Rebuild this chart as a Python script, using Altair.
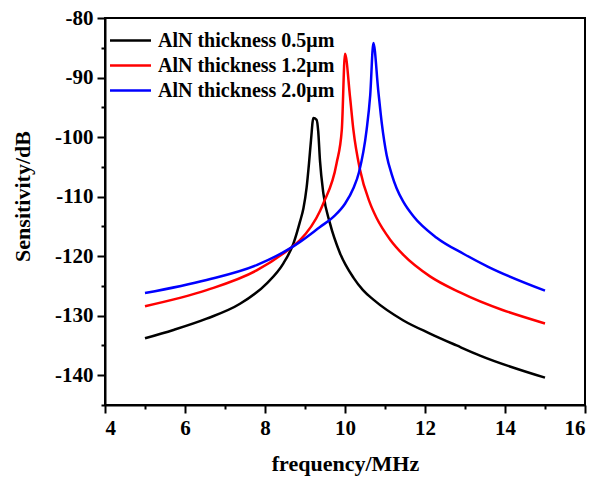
import altair as alt
import pandas as pd

series_names = ["AlN thickness 0.5μm", "AlN thickness 1.2μm", "AlN thickness 2.0μm"]
series_colors = ["#000000", "#ff0000", "#0000ff"]

freq_05 = [5.0, 5.71, 6.54, 7.375, 8.04, 8.46, 8.71, 8.875, 8.96, 9.04, 9.10, 9.15, 9.21,
           9.29, 9.33, 9.375, 9.46, 9.625, 9.875, 10.21, 10.45, 10.71, 11.46, 12.125, 12.79,
           13.375, 15.0]
sens_05 = [-133.8, -132.4, -130.5, -128.0, -124.6, -121.2, -117.9, -114.2, -112.0, -108.5,
           -104.4, -100.5, -96.8, -97.1, -99.0, -104.0, -109.5, -114.5, -119.5, -123.6,
           -125.7, -127.3, -130.8, -133.0, -135.0, -136.7, -140.4]

freq_12 = [5.0, 6.54, 7.79, 8.625, 8.875, 9.375, 9.46, 9.79, 9.92, 10.0, 10.125, 10.21,
           10.375, 10.625, 10.79, 11.125, 11.46, 12.125, 12.875, 15.0]
sens_12 = [-128.4, -125.7, -122.4, -118.7, -117.3, -112.4, -111.1, -104.4, -98.8, -86.0,
           -93.2, -98.8, -105.5, -111.1, -113.6, -117.2, -119.8, -123.4, -126.1, -131.3]

freq_20 = [5.0, 6.54, 7.79, 8.625, 8.875, 9.375, 9.71, 10.0, 10.21, 10.35, 10.54, 10.63,
           10.71, 10.83, 10.92, 11.04, 11.17, 11.29, 11.46, 11.71, 12.29, 12.96, 13.58, 15.0]
sens_20 = [-126.2, -124.0, -121.5, -118.7, -117.6, -115.1, -113.4, -111.2, -108.6, -105.9,
           -98.8, -93.0, -84.2, -92.1, -97.7, -103.0, -106.3, -108.6, -110.9, -113.3,
           -116.9, -119.6, -121.8, -125.8]

x_ticks = [4, 5, 6, 7, 8, 9, 10, 11, 12, 13, 14, 15, 16]
y_ticks = [-145, -140, -135, -130, -125, -120, -115, -110, -105, -100, -95, -90, -85, -80]

rows = []
for name, fs, ss in zip(series_names, [freq_05, freq_12, freq_20], [sens_05, sens_12, sens_20]):
    for f, s in zip(fs, ss):
        rows.append({"series": name, "freq": f, "sens": s})
df = pd.DataFrame(rows)

FONT = "Liberation Serif"

x_axis = alt.Axis(
    values=x_ticks,
    labelExpr="datum.value % 2 == 0 ? '' + datum.value : ''",
    tickSize={"condition": {"test": "datum.value % 2 == 0", "value": 8}, "value": 4},
    labelPadding=4,
    title="frequency/MHz",
    titleY=65,
    titleBaseline="alphabetic",
)
y_axis = alt.Axis(
    values=y_ticks,
    labelExpr="datum.value % 10 == 0 ? '' + datum.value : ''",
    tickSize={"condition": {"test": "datum.value % 10 == 0", "value": 8}, "value": 4},
    labelPadding=4,
    title="Sensitivity/dB",
    titleX=-76,
    titleY=178,
    titleBaseline="alphabetic",
)

chart = alt.Chart(df).mark_line(strokeWidth=2.5, interpolate="monotone").encode(
    x=alt.X("freq:Q", scale=alt.Scale(domain=[4, 16], nice=False, zero=False), axis=x_axis),
    y=alt.Y("sens:Q", scale=alt.Scale(domain=[-145, -80], nice=False, zero=False), axis=y_axis),
    color=alt.Color(
        "series:N",
        scale=alt.Scale(domain=series_names, range=series_colors),
        legend=alt.Legend(
            orient="none", legendX=14, legendY=11, title=None,
            symbolType="M-2,0H2", symbolSize=420, symbolStrokeWidth=2.5,
            labelFont=FONT, labelFontSize=20, labelFontWeight="bold", labelColor="black",
            labelOffset=16, rowPadding=3, padding=0, labelLimit=400,
        ),
    ),
).properties(
    width=480, height=387,
    autosize=alt.AutoSizeParams(type="none"),
    padding={"left": 105, "top": 18, "right": 12, "bottom": 72},
    background="white",
).configure_view(
    stroke="black", strokeWidth=2,
).configure_axis(
    domainColor="black", domainWidth=2, tickColor="black", tickWidth=2,
    labelFont=FONT, labelFontSize=21, labelFontWeight="bold", labelColor="black",
    titleFont=FONT, titleFontSize=22, titleFontWeight="bold", titleColor="black",
    grid=False,
)

chart.save("out.html", embed_options={"renderer": "svg", "actions": False})
